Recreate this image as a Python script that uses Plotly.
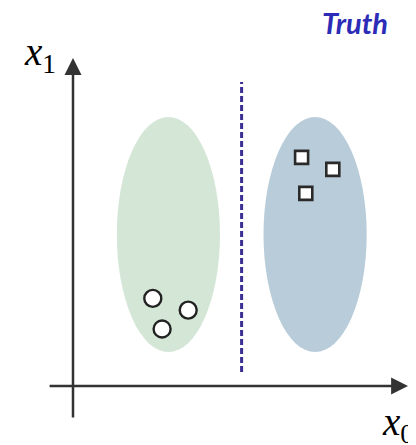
import plotly.graph_objects as go

# ---- data (feature space units) ----
circle_x0 = [2.66, 3.84, 2.97]
circle_x1 = [2.92, 2.53, 1.90]
square_x0 = [7.62, 8.66, 7.76]
square_x1 = [7.62, 7.22, 6.42]

cluster_cx = [3.18, 8.07]
cluster_cy = [5.05, 5.05]
cluster_rx = [1.72, 1.72]
cluster_ry = [3.92, 3.92]
cluster_colors = ["#d4e7d7", "#b8cdd9"]

boundary_x = [5.62, 5.62]
boundary_y = [0.47, 10.13]

axis_x_range = [-0.83, 11.17]
axis_y_range = [-1.10, 10.93]

title_text = "Truth"

fig = go.Figure()

# clusters (ellipses)
for cx, cy, rx, ry, col in zip(cluster_cx, cluster_cy, cluster_rx, cluster_ry, cluster_colors):
    fig.add_shape(type="circle", xref="x", yref="y",
                  x0=cx - rx, x1=cx + rx, y0=cy - ry, y1=cy + ry,
                  fillcolor=col, line=dict(width=0), layer="below")

# decision boundary
fig.add_trace(go.Scatter(x=boundary_x, y=boundary_y, mode="lines",
                         line=dict(color="#3b2f91", width=3, dash="6px,3px"),
                         hoverinfo="skip", showlegend=False))

# points
fig.add_trace(go.Scatter(x=circle_x0, y=circle_x1, mode="markers",
                         marker=dict(symbol="circle", size=17, color="white",
                                     line=dict(color="#222222", width=2.4)),
                         showlegend=False))
fig.add_trace(go.Scatter(x=square_x0, y=square_x1, mode="markers",
                         marker=dict(symbol="square", size=13, color="white",
                                     line=dict(color="#2a2a2a", width=2.6)),
                         showlegend=False))

# axes with arrows
axis_col = "#333333"
fig.add_annotation(x=axis_x_range[1], y=0, ax=axis_x_range[0], ay=0,
                   xref="x", yref="y", axref="x", ayref="y", text="",
                   showarrow=True, arrowhead=2, arrowsize=1.36, arrowwidth=2.5,
                   arrowcolor=axis_col, standoff=0, startstandoff=0)
fig.add_annotation(x=0, y=axis_y_range[1], ax=0, ay=axis_y_range[0],
                   xref="x", yref="y", axref="x", ayref="y", text="",
                   showarrow=True, arrowhead=2, arrowsize=1.36, arrowwidth=2.5,
                   arrowcolor=axis_col, standoff=0, startstandoff=0)

label_font = dict(family="Liberation Serif, DejaVu Serif, serif", size=39, color="black")
fig.add_annotation(x=-1.1, y=11.05, xref="x", yref="y", showarrow=False,
                   text="<i>x</i><sub>1</sub>", font=label_font)
fig.add_annotation(x=10.23, y=-1.27, xref="x", yref="y", showarrow=False,
                   text="<i>x</i><sub>0</sub>", font=label_font, xanchor="left")

fig.add_annotation(x=9.4, y=12.13, xref="x", yref="y", showarrow=False,
                   text="<b><i>" + title_text + "</i></b>",
                   font=dict(family="Lato", size=29, color="#2c2cb6"))

# page has an 8px body margin: origin of the axes sits at page pixel (73, 386)
px_per_unit = 30.0
W, H = 408, 437
ox, oy = 73 - 8, 386 - 8
fig.update_layout(
    width=W, height=H,
    margin=dict(l=0, r=0, t=0, b=0),
    paper_bgcolor="white", plot_bgcolor="white",
    xaxis=dict(range=[-ox / px_per_unit, (W - ox) / px_per_unit], visible=False, fixedrange=True),
    yaxis=dict(range=[(oy - H) / px_per_unit, oy / px_per_unit], visible=False, fixedrange=True),
    showlegend=False,
)

fig.write_html("out.html")
